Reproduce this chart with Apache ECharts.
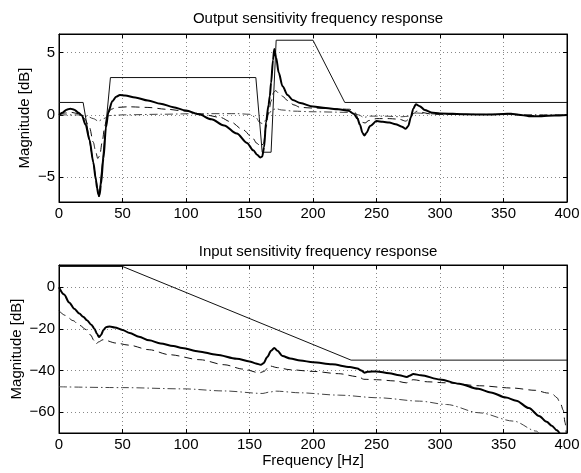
<!DOCTYPE html>
<html>
<head>
<meta charset="utf-8">
<script src="https://cdn.jsdelivr.net/npm/echarts@6/dist/echarts.min.js"></script>
<style>
  html, body { margin: 0; padding: 0; background: #fff; }
  #chart { width: 581px; height: 473px; }
</style>
</head>
<body>
<div id="chart"></div>
<script>
// ---- Output sensitivity: template (thin solid) ----
const outTemplateHz = [0, 19, 31.5, 40.5, 155, 160, 167, 171, 200, 225, 400];
const outTemplateDb = [1, 1, -6.6, 3, 3, -3, -3, 6, 6, 1, 1];

// ---- Output sensitivity: thick solid ----
const outThickHz = [0, 3, 6, 9, 12, 15, 18, 21, 24, 27, 29, 30, 31, 31.5, 32, 33, 35, 37, 39, 42, 45, 48, 52, 60, 70, 80, 90, 100, 110, 120, 130, 140, 148, 153, 156, 158.5, 160, 161.5, 163, 165, 166, 167, 168.5, 169.5, 171, 173, 176, 180, 184, 190, 200, 210, 220, 228, 232, 235, 237, 239, 240.5, 242, 245, 250, 255, 260, 265, 270, 273, 275, 277, 279, 281, 284, 288, 293, 300, 320, 340, 350, 356, 362, 370, 380, 390, 400];
const outThickDb = [0, 0.2, 0.42, 0.5, 0.42, 0.2, -0.05, -0.8, -2.0, -3.8, -5.2, -5.9, -6.4, -6.5, -6.4, -5.6, -3.5, -1.0, 0.3, 1.1, 1.45, 1.6, 1.55, 1.4, 1.15, 0.9, 0.62, 0.35, 0.05, -0.35, -0.85, -1.5, -2.25, -2.85, -3.2, -3.42, -3.35, -2.6, -0.6, 0.8, 1.5, 2.6, 4.4, 5.3, 4.6, 3.4, 2.3, 1.6, 1.2, 0.95, 0.67, 0.55, 0.45, 0.33, 0.1, -0.3, -0.8, -1.45, -1.65, -1.45, -0.9, -0.5, -0.55, -0.62, -0.75, -0.95, -1.12, -0.9, -0.2, 0.5, 0.85, 0.7, 0.4, 0.2, 0.12, 0.05, 0.03, 0.08, 0.1, 0.02, -0.1, -0.1, -0.05, 0];

// ---- Output sensitivity: dashed ----
const outDashHz = [0, 5, 10, 15, 20, 24, 27, 29, 30.5, 32, 34, 36, 38, 41, 45, 55, 70, 85, 100, 115, 127, 135, 145, 152, 156, 159, 161, 163, 165, 167, 169, 170.5, 173, 176, 180, 185, 190, 200, 215, 229, 233, 236, 239, 241, 244, 250, 260, 268, 273, 276, 279, 282, 286, 292, 300, 330, 355, 370, 385, 400];
const outDashDb = [0, 0.15, 0.2, 0.1, -0.3, -1.0, -2.2, -3.0, -3.5, -3.3, -2.2, -0.9, 0, 0.45, 0.6, 0.65, 0.6, 0.45, 0.3, 0.0, -0.2, -0.55, -1.2, -1.8, -2.3, -2.55, -2.3, -1.0, 0.2, 1.1, 1.8, 1.95, 1.75, 1.5, 1.15, 0.8, 0.6, 0.55, 0.5, 0.45, 0.2, -0.35, -0.6, -0.65, -0.45, -0.3, -0.3, -0.35, -0.5, -0.3, 0.1, 0.3, 0.2, 0.08, 0.05, 0.03, 0.06, -0.05, -0.05, 0];

// ---- Output sensitivity: dash-dot ----
const outDotHz = [0, 15, 22, 27, 31, 35, 40, 50, 80, 110, 140, 150, 155, 158, 160, 162, 165, 168, 171, 175, 185, 200, 230, 236, 240, 245, 255, 270, 276, 282, 290, 300, 400];
const outDotDb = [0, 0, -0.1, -0.3, -0.5, -0.3, -0.05, 0, 0.05, 0.1, 0.1, 0.05, -0.2, -0.6, -0.7, -0.5, 0.1, 0.4, 0.5, 0.4, 0.3, 0.25, 0.2, 0, -0.2, -0.1, -0.1, -0.15, -0.1, 0.15, 0.1, 0.05, 0];

// ---- Input sensitivity: template (thin solid) ----
const inTemplateHz = [0, 50, 230, 400];
const inTemplateDb = [10, 10, -35, -35];

// ---- Input sensitivity: thick solid ----
const inThickHz = [0, 4, 8, 12, 16, 19, 22, 25.5, 28, 30, 31.5, 33, 35, 37, 40, 44, 50, 55.7, 63, 71, 80, 90, 97, 110, 124, 140, 150, 155, 159, 161, 164, 167, 169.5, 172, 176, 182, 190, 200, 215, 229, 235, 238, 240.5, 243, 250, 260, 268, 274, 276, 279, 285, 300, 315, 330, 340, 352, 360, 370, 378, 384, 388, 392, 395];
const inThickDb = [0, -3.5, -7.3, -10.3, -12.6, -14.1, -15.8, -18, -20, -22.5, -23.9, -23, -20.5, -19.2, -18.8, -19.3, -20.5, -22, -23.8, -25.5, -27, -28.2, -29.2, -30.8, -32.4, -34.3, -35.6, -36.6, -37.2, -36.5, -33.5, -30.5, -29.2, -30.5, -33, -34.2, -35.2, -36, -37, -38.3, -39, -40, -41, -40.6, -40.4, -41.3, -42.3, -43.1, -42.5, -41.6, -42.3, -44.3, -46.3, -48.8, -50.5, -53, -54.5, -58, -61.8, -64.6, -66.5, -68.7, -71];

// ---- Input sensitivity: dashed ----
const inDashHz = [0, 5, 11, 16, 21.6, 25, 27.5, 29, 31, 34.6, 45, 55, 71, 87, 111, 130, 145, 158, 161, 166, 172, 182, 200, 220, 236, 240, 250, 265, 273.5, 278.8, 290, 305, 331, 357, 375, 385, 389, 392, 395, 397, 398.5, 399.5];
const inDashDb = [-11.3, -13.5, -16, -18.2, -20.4, -23, -25.5, -27.3, -26.3, -25.2, -26.8, -27.8, -30, -32.4, -34.8, -37.2, -39.3, -41.1, -40.5, -37.8, -38.6, -39.6, -40.4, -41.5, -43, -44.2, -44.4, -45, -45.9, -44.4, -45.4, -45.9, -47.3, -48.4, -49.5, -50.8, -51.5, -53, -56, -59, -65, -71];

// ---- Input sensitivity: dash-dot ----
const inDotHz = [0, 50, 98, 130, 160.6, 165, 171, 190, 220, 252, 284, 305, 331, 358, 376, 379];
const inDotDb = [-47.8, -48.2, -48.8, -49.8, -51, -50.4, -49.9, -50.7, -51.8, -53.1, -54.7, -56.3, -60.3, -64.3, -69.1, -71];

// Axis tick labels
const freqTicks = [0, 50, 100, 150, 200, 250, 300, 350, 400];
const outDbTicks = [-5, 0, 5];
const inDbTicks = [-60, -40, -20, 0];

const pairs = (xs, ys) => xs.map((x, i) => [x, ys[i]]);
const minus = v => String(v).replace('-', '\u2212');

const FONT = 'Liberation Sans';
const FS = 15;
const BLACK = '#000';
const gridLine = { show: true, lineStyle: { color: '#888', width: 1, type: [1, 3] } };

function xAxisPair(gridIndex, withName) {
  const base = {
    type: 'value', gridIndex, min: 0, max: 400,
    minInterval: 50, maxInterval: 50,
    axisLine: { show: true, onZero: false, lineStyle: { color: BLACK, width: 1 } },
    axisTick: { show: true, inside: true, length: 4, lineStyle: { color: BLACK } },
    splitLine: { show: false }
  };
  return [
    Object.assign({}, base, {
      position: 'bottom',
      splitLine: gridLine,
      axisLabel: {
        show: true, margin: 4, color: BLACK, fontFamily: FONT, fontSize: FS,
        showMinLabel: true, showMaxLabel: true,
        formatter: v => freqTicks.indexOf(v) >= 0 ? minus(v) : ''
      },
      name: withName ? 'Frequency [Hz]' : '',
      nameLocation: 'middle', nameGap: 20, nameMoveOverlap: false,
      nameTextStyle: { color: BLACK, fontFamily: FONT, fontSize: FS }
    }),
    Object.assign({}, base, { position: 'top', axisLabel: { show: false } })
  ];
}

function yAxisPair(gridIndex, min, max, step, ticks, gap) {
  const base = {
    type: 'value', gridIndex, min, max,
    minInterval: step, maxInterval: step,
    axisLine: { show: true, onZero: false, lineStyle: { color: BLACK, width: 1 } },
    axisTick: { show: true, inside: true, length: 4, lineStyle: { color: BLACK } },
    splitLine: { show: false }
  };
  return [
    Object.assign({}, base, {
      position: 'left',
      splitLine: gridLine,
      axisLabel: {
        show: true, margin: 4, color: BLACK, fontFamily: FONT, fontSize: FS,
        showMinLabel: false, showMaxLabel: false,
        formatter: v => ticks.indexOf(v) >= 0 ? minus(v) : ''
      },
      name: 'Magnitude [dB]',
      nameLocation: 'middle', nameGap: gap, nameMoveOverlap: false,
      nameTextStyle: { color: BLACK, fontFamily: FONT, fontSize: FS }
    }),
    Object.assign({}, base, { position: 'right', axisLabel: { show: false } })
  ];
}

function line(xs, ys, axis, style) {
  return {
    type: 'line', xAxisIndex: axis, yAxisIndex: axis,
    data: pairs(xs, ys), showSymbol: false, symbol: 'none',
    smooth: style.smooth || 0, smoothMonotone: 'x',
    lineStyle: { color: style.color, width: style.width, type: style.type || 'solid' },
    z: style.z || 2, silent: true, animation: false
  };
}

const gridBox = { show: true, borderColor: BLACK, borderWidth: 1, containLabel: false, outerBoundsMode: 'none' };
const DASH = [8, 5];
const DASH_DOT = [8, 3, 1.5, 3];

const chart = echarts.init(document.getElementById('chart'), null, { renderer: 'canvas' });
chart.setOption({
  animation: false,
  backgroundColor: '#fff',
  title: [
    { text: 'Output sensitivity frequency response', left: 313, top: 6, textAlign: 'center',
      textStyle: { fontFamily: FONT, fontSize: FS, fontWeight: 'normal', color: BLACK } },
    { text: 'Input sensitivity frequency response', left: 313, top: 239, textAlign: 'center',
      textStyle: { fontFamily: FONT, fontSize: FS, fontWeight: 'normal', color: BLACK } }
  ],
  grid: [
    Object.assign({ left: 59, top: 34, width: 508, height: 168 }, gridBox),
    Object.assign({ left: 59, top: 265, width: 508, height: 168 }, gridBox)
  ],
  xAxis: [...xAxisPair(0, false), ...xAxisPair(1, true)],
  yAxis: [...yAxisPair(0, -7, 6.5, 5, outDbTicks, 27), ...yAxisPair(1, -70, 10.7, 20, inDbTicks, 35)],
  series: [
    line(outTemplateHz, outTemplateDb, 0, { color: '#111', width: 1, z: 3 }),
    line(outDotHz, outDotDb, 0, { color: '#444', width: 1, type: DASH_DOT, smooth: 0.3, z: 2 }),
    line(outDashHz, outDashDb, 0, { color: '#111', width: 1, type: DASH, smooth: 0.3, z: 2 }),
    line(outThickHz, outThickDb, 0, { color: BLACK, width: 2, smooth: 0.3, z: 4 }),

    line(inTemplateHz, inTemplateDb, 2, { color: '#111', width: 1, z: 3 }),
    line(inDotHz, inDotDb, 2, { color: '#444', width: 1, type: DASH_DOT, smooth: 0.3, z: 2 }),
    line(inDashHz, inDashDb, 2, { color: '#111', width: 1, type: DASH, smooth: 0.3, z: 2 }),
    line(inThickHz, inThickDb, 2, { color: BLACK, width: 2, smooth: 0.3, z: 4 })
  ]
});
</script>
</body>
</html>
